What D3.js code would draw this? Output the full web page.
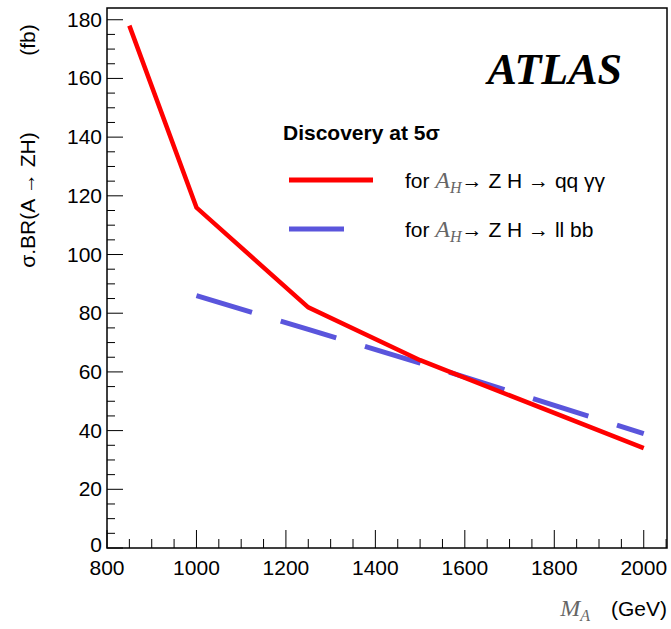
<!DOCTYPE html>
<html><head><meta charset="utf-8">
<script src="https://cdn.jsdelivr.net/npm/d3@7"></script>
<style>body{margin:0;background:#fff}</style>
</head><body><div id="chart"></div>
<script>
const massRed = [850, 1000, 1250, 1500, 2000];
const xsecRed = [178, 116, 82, 64, 34];
const massBlue = [1000, 1250, 1500, 1750, 2000];
const xsecBlue = [86, 74.5, 63, 51, 39];
const xTicks = [800, 1000, 1200, 1400, 1600, 1800, 2000];
const yTicks = [0, 20, 40, 60, 80, 100, 120, 140, 160, 180];

const W = 671, H = 629;
const margin = {top: 8, right: 4, bottom: 81, left: 107};
const width = W - margin.left - margin.right;
const height = H - margin.top - margin.bottom;
const SANS = "'Liberation Sans', Arial, sans-serif";
const SERIF = "'Liberation Serif', 'DejaVu Serif', serif";

const svg = d3.select("#chart").append("svg").attr("width", W).attr("height", H)
  .style("font-family", SANS)
  .append("g").attr("transform", `translate(${margin.left},${margin.top})`);

const x = d3.scaleLinear().domain([800, 2052]).range([0, width]);
const y = d3.scaleLinear().domain([0, 184]).range([height, 0]);

// frame
svg.append("rect").attr("width", width).attr("height", height)
  .attr("fill", "none").attr("stroke", "#000").attr("stroke-width", 1.5);

// ticks inside
const g = svg.append("g").attr("stroke", "#000").attr("stroke-width", 1);
d3.range(800, 2051, 50).forEach(v => {
  const big = v % 200 === 0;
  g.append("line").attr("x1", x(v)).attr("x2", x(v)).attr("y1", height).attr("y2", height - (big ? 18 : 9));
});
d3.range(0, 184, 5).forEach(v => {
  const big = v % 20 === 0;
  g.append("line").attr("x1", 0).attr("x2", big ? 16 : 8).attr("y1", y(v)).attr("y2", y(v));
});

svg.selectAll(".xl").data(xTicks).enter().append("text")
  .attr("x", d => x(d)).attr("y", height + 27).attr("text-anchor", "middle")
  .attr("font-size", 21).text(d => d);
svg.selectAll(".yl").data(yTicks).enter().append("text")
  .attr("x", -5).attr("y", d => y(d) + (d === 0 ? 4 : 7)).attr("text-anchor", "end")
  .attr("font-size", 21).text(d => d);

// axis titles
const xt = svg.append("text").attr("x", width).attr("y", height + 68).attr("text-anchor", "end").attr("font-size", 21);
xt.append("tspan").style("font-family", SERIF).style("font-style", "italic").attr("fill", "#666").attr("font-size", 24).text("M");
xt.append("tspan").style("font-family", SERIF).style("font-style", "italic").attr("fill", "#666").attr("font-size", 16).attr("dy", 5).text("A");
xt.append("tspan").attr("dy", -5).text("\u2003(GeV)");

svg.append("text").attr("transform", `translate(${-79},${200 - margin.top}) rotate(-90)`)
  .attr("text-anchor", "middle").attr("font-size", 21).attr("dy", 7)
  .text("\u03c3.BR(A   \u2192 ZH)");
svg.append("text").attr("transform", `translate(${-79},${40 - margin.top}) rotate(-90)`)
  .attr("text-anchor", "middle").attr("font-size", 21).attr("dy", 7).text("(fb)");

// lines
const line = d3.line().x(d => x(d[0])).y(d => y(d[1]));
svg.append("path").datum(d3.zip(massBlue, xsecBlue)).attr("d", line)
  .attr("fill", "none").attr("stroke", "#5a55dc").attr("stroke-width", 5).attr("stroke-dasharray", "58,30");
svg.append("path").datum(d3.zip(massRed, xsecRed)).attr("d", line)
  .attr("fill", "none").attr("stroke", "#f00").attr("stroke-width", 4.5);

// ATLAS
svg.append("text").attr("x", 515).attr("y", 76).attr("text-anchor", "end")
  .style("font-family", SERIF).style("font-style", "italic").style("font-weight", "bold")
  .attr("font-size", 44).text("ATLAS");

// legend
svg.append("text").attr("x", 176).attr("y", 132).attr("font-weight", "bold").attr("font-size", 21).text("Discovery at 5\u03c3");
svg.append("line").attr("x1", 182).attr("x2", 266).attr("y1", 172).attr("y2", 172).attr("stroke", "#f00").attr("stroke-width", 5);
svg.append("line").attr("x1", 182).attr("x2", 237).attr("y1", 221).attr("y2", 221).attr("stroke", "#5a55dc").attr("stroke-width", 5);
function legText(yy, tail) {
  const t = svg.append("text").attr("x", 298).attr("y", yy).attr("font-size", 21);
  t.append("tspan").text("for ");
  t.append("tspan").style("font-family", SERIF).style("font-style", "italic").attr("fill", "#666").attr("font-size", 24).text("A");
  t.append("tspan").style("font-family", SERIF).style("font-style", "italic").attr("fill", "#666").attr("font-size", 16).attr("dy", 5).text("H");
  t.append("tspan").attr("dy", -5).text("\u2192 Z H \u2192 " + tail);
}
legText(180, "qq \u03b3\u03b3");
legText(229, "ll bb");
</script></body></html>
